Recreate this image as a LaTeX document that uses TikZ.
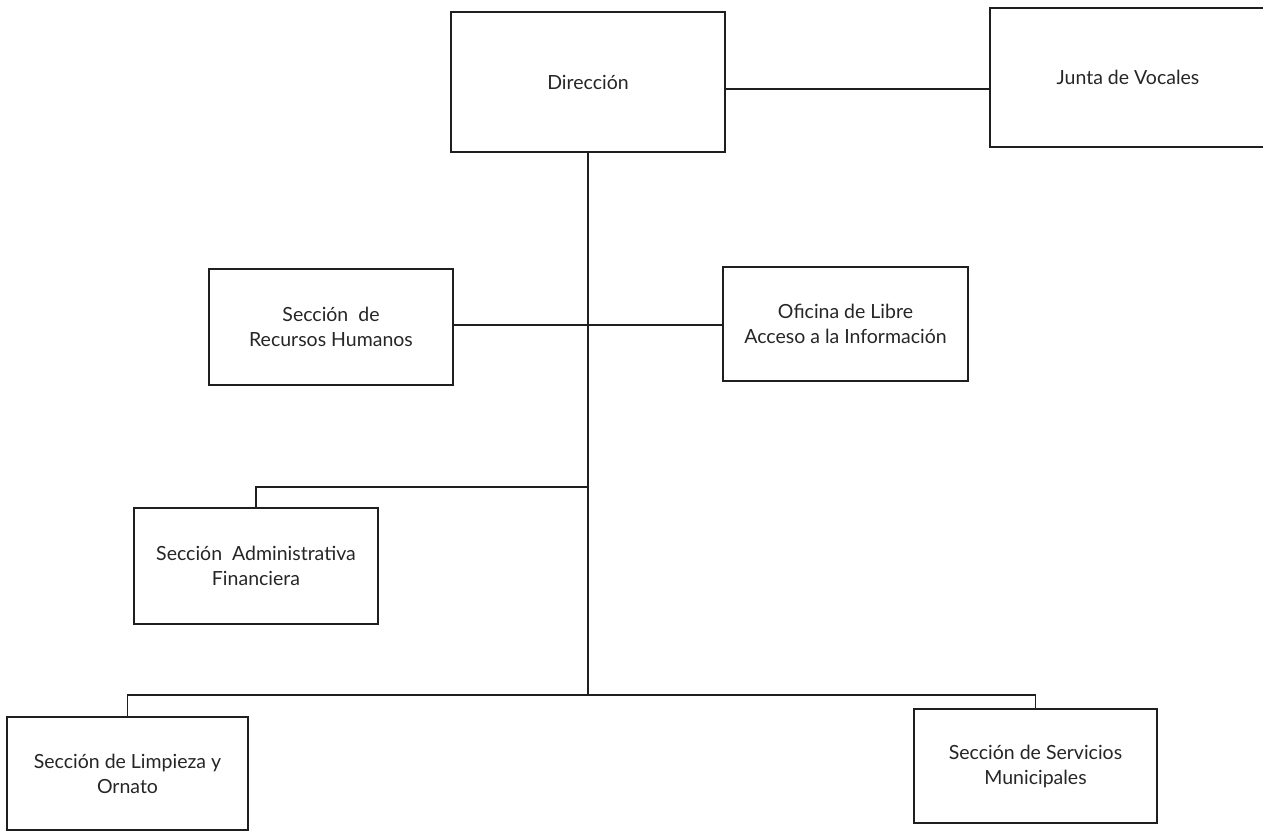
\documentclass[tikz,border=0pt]{standalone}
\usepackage{fontspec}
\setmainfont{Lato}
\begin{document}
\begin{tikzpicture}[x=1pt,y=-1pt,
  box/.style={draw=black!88, line width=1.5pt, inner sep=0pt, align=center,
    font=\fontsize{19.5}{25}\selectfont, text=black!85},
  link/.style={draw=black!88, line width=1.5pt}]
\useasboundingbox (0,0) rectangle (1263,832);
\clip (0,0) rectangle (1263,832);
\node[box, minimum width=274pt, minimum height=140pt] (dir) at (588,82) {Dirección};
\node[box, minimum width=276pt, minimum height=139pt] (junta) at (1128,77.5) {\raisebox{-2pt}{Junta de Vocales}};
\node[box, minimum width=244pt, minimum height=116pt] (rh) at (331,327) {Sección\ \ de\\Recursos Humanos};
\node[box, minimum width=245pt, minimum height=114pt] (ofi) at (845.5,324) {Oficina de Libre\\Acceso a la Información};
\node[box, minimum width=244pt, minimum height=116pt] (adm) at (256,566) {Sección\ \ Administrativa\\Financiera};
\node[box, minimum width=241pt, minimum height=113pt] (limp) at (127.5,773.5) {Sección de Limpieza y\\Ornato};
\node[box, minimum width=243pt, minimum height=114pt] (serv) at (1035.5,766) {Sección de Servicios\\Municipales};
\coordinate (bus) at (588,695);
\coordinate (admrow) at (588,487);
\coordinate (toprow) at (0,89);
\coordinate (midrow) at (0,325);
\draw[link] (dir.east |- toprow) -- (junta.west |- toprow);
\draw[link] (dir.south) -- (bus);
\draw[link] (rh.east |- midrow) -- (ofi.west |- midrow);
\draw[link] (adm.north) |- (admrow);
\draw[link] (limp.north) |- (bus) -| (serv.north);
\end{tikzpicture}
\end{document}
